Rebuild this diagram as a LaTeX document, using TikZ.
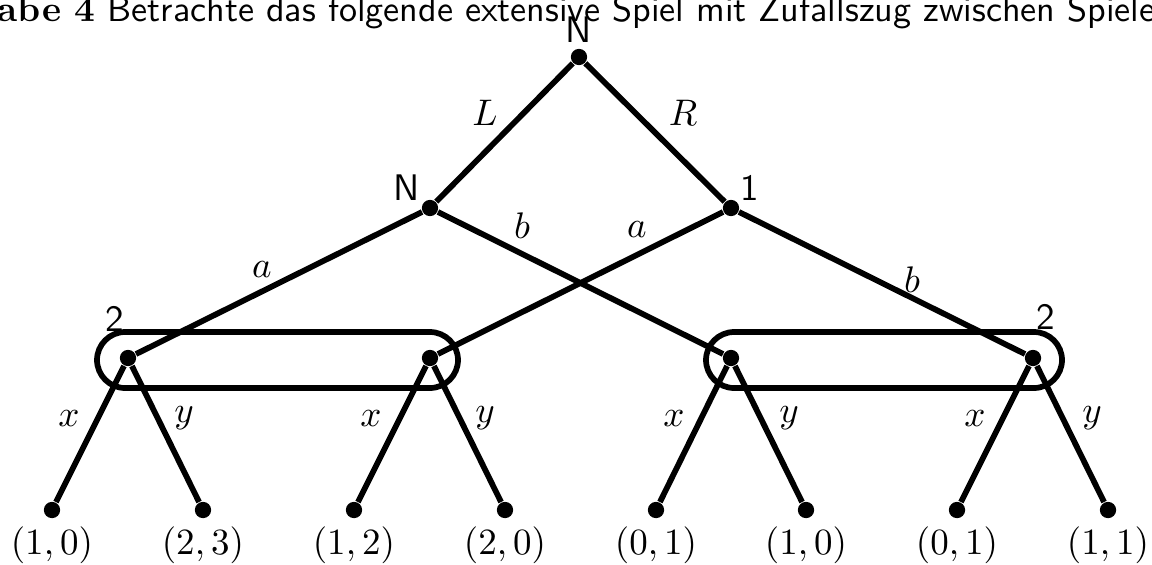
\documentclass[tikz,border=0pt]{standalone}
\usetikzlibrary{calc}
\begin{document}
\begin{tikzpicture}[x=0.27027pt,y=-0.27027pt,
  dot/.style={circle,fill,inner sep=0pt,minimum size=4.4pt},
  edge/.style={line width=1.55pt},
  infoset/.style={line width=1.55pt,rounded corners=7.6pt},
  lab/.style={inner sep=0pt},
  player/.style={inner sep=0pt,font=\sffamily}]
\useasboundingbox (0,0) rectangle (1152,564);
% caption line (cut by the page)
\node[anchor=base west,inner sep=0pt,font=\fontsize{9.75}{12}\selectfont] (cap) at (-3,21)
  {\textbf{abe 4} \textsf{Betrachte das folgende extensive Spiel mit Zufallszug zwischen Spiele}};
% decision nodes
\node[dot] (r) at (579,57) {};
\node[dot] (n1) at (430,208) {};
\node[dot] (n2) at (731,208) {};
\node[dot] (m1) at (128,358) {};
\node[dot] (m2) at (430,358) {};
\node[dot] (m3) at (731,358) {};
\node[dot] (m4) at (1033,358) {};
% leaves
\foreach \i/\x in {1/52,2/203,3/354,4/505,5/656,6/806,7/957,8/1108}
  \node[dot] (t\i) at (\x,510) {};
% payoffs
\node[lab] (p1) at (52,545) {$(1,0)$};
\node[lab] (p2) at (203,545) {$(2,3)$};
\node[lab] (p3) at (354,545) {$(1,2)$};
\node[lab] (p4) at (505,545) {$(2,0)$};
\node[lab] (p5) at (656,545) {$(0,1)$};
\node[lab] (p6) at (806,545) {$(1,0)$};
\node[lab] (p7) at (957,545) {$(0,1)$};
\node[lab] (p8) at (1108,545) {$(1,1)$};
% player labels
\node[player] (lr) at (579,30) {N};
\node[player] (ln1) at (407,188) {N};
\node[player] (ln2) at (750,188) {1};
\node[player] (lm1) at (115,319) {2};
\node[player] (lm4) at (1046,317) {2};
% edges
\draw[edge] (r) -- (n1);
\draw[edge] (r) -- (n2);
\draw[edge] (n1) -- (m1);
\draw[edge] (n1) -- (m3);
\draw[edge] (n2) -- (m2);
\draw[edge] (n2) -- (m4);
\draw[edge] (m1) -- (t1);
\draw[edge] (m1) -- (t2);
\draw[edge] (m2) -- (t3);
\draw[edge] (m2) -- (t4);
\draw[edge] (m3) -- (t5);
\draw[edge] (m3) -- (t6);
\draw[edge] (m4) -- (t7);
\draw[edge] (m4) -- (t8);
% information sets
\draw[infoset] ($(m1)+(-31,-26)$) rectangle ($(m2)+(28,30)$);
\draw[infoset] ($(m3)+(-25,-26)$) rectangle ($(m4)+(29,30)$);
% action labels
\node[lab] (aL) at (485,113) {$L$};
\node[lab] (aR) at (683,113) {$R$};
\node[lab] (a1) at (262,270) {$a$};
\node[lab] (b1) at (522,226) {$b$};
\node[lab] (a2) at (637,230) {$a$};
\node[lab] (b2) at (912,280) {$b$};
\node[lab] (x1) at (69,419) {$x$};
\node[lab] (y1) at (184,418) {$y$};
\node[lab] (x2) at (371,419) {$x$};
\node[lab] (y2) at (485,418) {$y$};
\node[lab] (x3) at (674,419) {$x$};
\node[lab] (y3) at (789,418) {$y$};
\node[lab] (x4) at (975,419) {$x$};
\node[lab] (y4) at (1092,418) {$y$};
\end{tikzpicture}
\end{document}
